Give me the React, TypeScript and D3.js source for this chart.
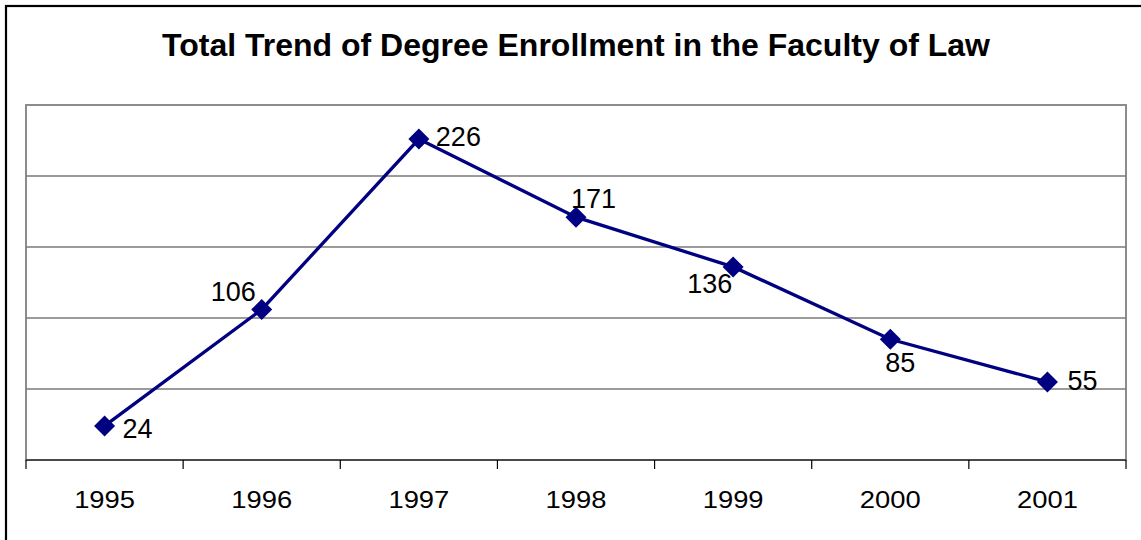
import React, { useEffect, useRef } from 'react';
import * as d3 from 'd3';

const years = ['1995', '1996', '1997', '1998', '1999', '2000', '2001'];
const enrollment = [24, 106, 226, 171, 136, 85, 55];
const yTicks = [0, 50, 100, 150, 200, 250];
// where each value label sits relative to its marker (dx, dy)
const labelOffsets = [
  [18, 12],
  [-51, -8],
  [17, 7],
  [-5, -9],
  [-46, 26],
  [-5, 33],
  [20, 8],
];

const App = () => {
  const ref = useRef<SVGSVGElement>(null);

  useEffect(() => {
    const svg = d3.select(ref.current);
    svg.selectAll('*').remove();

    const W = 1141;
    const H = 540;
    const margin = { top: 105, right: 15, bottom: 80, left: 26 };
    const width = W - margin.left - margin.right;
    const height = H - margin.top - margin.bottom;
    const font = '"Liberation Sans", Arial, sans-serif';

    // chart frame
    svg.append('rect')
      .attr('x', 6)
      .attr('y', 6)
      .attr('width', W + 20)
      .attr('height', H + 20)
      .attr('fill', '#fff')
      .attr('stroke', '#000')
      .attr('stroke-width', 2.2);

    svg.append('text')
      .attr('x', margin.left + width / 2)
      .attr('y', 56)
      .attr('text-anchor', 'middle')
      .style('font-family', font)
      .style('font-weight', 'bold')
      .style('font-size', '32px')
      .text('Total Trend of Degree Enrollment in the Faculty of Law');

    const g = svg.append('g')
      .attr('transform', `translate(${margin.left}, ${margin.top})`);

    const xScale = d3.scaleBand()
      .domain(years)
      .range([0, width]);

    const yScale = d3.scaleLinear()
      .domain([0, 250])
      .range([height, 0]);

    // plot area border + gridlines
    g.append('rect')
      .attr('width', width)
      .attr('height', height)
      .attr('fill', 'none')
      .attr('stroke', '#8c8c8c')
      .attr('stroke-width', 2);

    g.selectAll('.grid')
      .data(yTicks.slice(1, -1))
      .enter().append('line')
      .attr('x1', 0)
      .attr('x2', width)
      .attr('y1', d => yScale(d))
      .attr('y2', d => yScale(d))
      .attr('stroke', '#7a7a7a')
      .attr('stroke-width', 1.5);

    // x axis with ticks between categories
    g.append('line')
      .attr('x1', 0)
      .attr('x2', width)
      .attr('y1', height)
      .attr('y2', height)
      .attr('stroke', '#333')
      .attr('stroke-width', 1.5);

    const bounds = years.map(y => xScale(y) as number).concat([width]);
    g.selectAll('.tick')
      .data(bounds)
      .enter().append('line')
      .attr('x1', d => d)
      .attr('x2', d => d)
      .attr('y1', height)
      .attr('y2', height + 9)
      .attr('stroke', '#000')
      .attr('stroke-width', 1.2);

    // tick labels are a bit wider than tall in the original
    g.selectAll('.xlabel')
      .data(years)
      .enter().append('text')
      .attr('transform', d => `translate(${(xScale(d) as number) + xScale.bandwidth() / 2}, ${height + 48}) scale(1.14, 1)`)
      .attr('text-anchor', 'middle')
      .style('font-family', font)
      .style('font-size', '24px')
      .text(d => d);

    const cx = (i: number) => (xScale(years[i]) as number) + xScale.bandwidth() / 2;

    const line = d3.line<number>()
      .x((d, i) => cx(i))
      .y(d => yScale(d));

    g.append('path')
      .datum(enrollment)
      .attr('d', line)
      .attr('fill', 'none')
      .attr('stroke', '#000080')
      .attr('stroke-width', 3.3);

    g.selectAll('.marker')
      .data(enrollment)
      .enter().append('path')
      .attr('d', 'M0,-10.5L10.5,0L0,10.5L-10.5,0Z')
      .attr('transform', (d, i) => `translate(${cx(i)}, ${yScale(d)})`)
      .attr('fill', '#000080');

    g.selectAll('.value')
      .data(enrollment)
      .enter().append('text')
      .attr('x', (d, i) => cx(i) + labelOffsets[i][0])
      .attr('y', (d, i) => yScale(d) + labelOffsets[i][1])
      .style('font-family', font)
      .style('font-size', '27px')
      .text(d => d);
  }, []);

  return (
    <svg ref={ref} width={1141} height={540}
      style={{ position: 'absolute', left: 0, top: 0, background: '#fff' }} />
  );
};

export default App;
